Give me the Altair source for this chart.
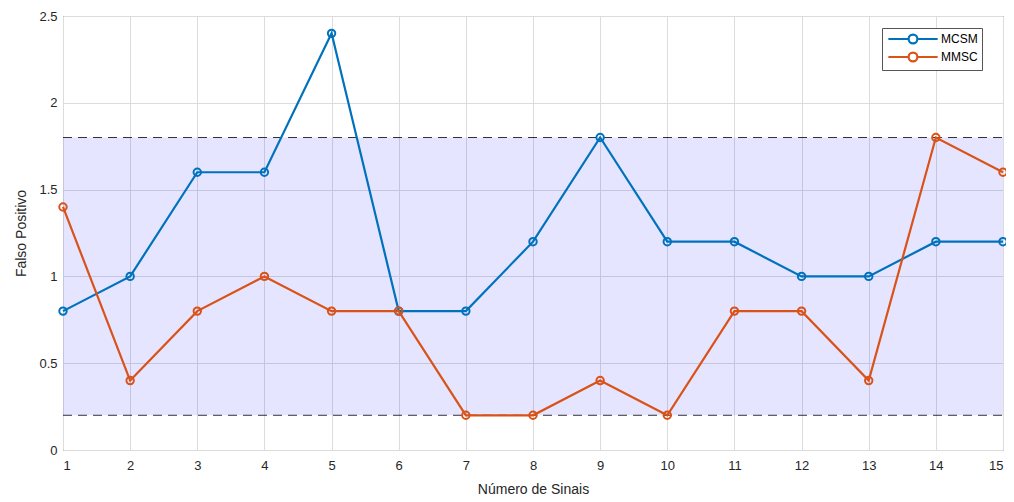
import altair as alt
import pandas as pd

sinais = list(range(1, 16))
mcsm = [0.8, 1.0, 1.6, 1.6, 2.4, 0.8, 0.8, 1.2, 1.8, 1.2, 1.2, 1.0, 1.0, 1.2, 1.2]
mmsc = [1.4, 0.4, 0.8, 1.0, 0.8, 0.8, 0.2, 0.2, 0.4, 0.2, 0.8, 0.8, 0.4, 1.8, 1.6]
series_names = ["MCSM", "MMSC"]
series_colors = ["#0072BD", "#D95319"]
band_low, band_high = 0.2, 1.8
x_ticks = list(range(1, 16))
y_ticks = [0, 0.5, 1, 1.5, 2, 2.5]

df = pd.DataFrame({
    "x": sinais * 2,
    "y": mcsm + mmsc,
    "serie": ["MCSM"] * len(sinais) + ["MMSC"] * len(sinais),
})
band_df = pd.DataFrame({"x": [sinais[0]], "x2": [sinais[-1]], "y": [band_low], "y2": [band_high]})
rule_df = pd.DataFrame({"y": [band_low, band_high], "x": [sinais[0]] * 2, "x2": [sinais[-1]] * 2})

xscale = alt.Scale(domain=[1, 15], nice=False, zero=False)
yscale = alt.Scale(domain=[0, 2.5], nice=False)

xaxis = alt.Axis(values=x_ticks, title="Número de Sinais", labelExpr="datum.value",
                 grid=True, ticks=False, domain=False, labelPadding=9, titlePadding=10)
yaxis = alt.Axis(values=y_ticks, title="Falso Positivo", labelExpr="datum.value",
                 grid=True, ticks=False, domain=False, labelPadding=6, titlePadding=10)

band = alt.Chart(band_df).mark_rect(color="#0000FF", opacity=0.1).encode(
    x=alt.X("x:Q", scale=xscale, axis=xaxis),
    x2="x2:Q",
    y=alt.Y("y:Q", scale=yscale, axis=yaxis),
    y2="y2:Q",
)

rules = alt.Chart(rule_df).mark_rule(color="#000000", strokeDash=[9, 6], strokeWidth=1, opacity=0.8).encode(
    x=alt.X("x:Q", scale=xscale),
    x2="x2:Q",
    y=alt.Y("y:Q", scale=yscale),
)

legend_path = "M-4.5,0H-0.8M0.8,0H4.5M-0.8,0A0.8,0.8,0,1,0,0.8,0A0.8,0.8,0,1,0,-0.8,0"

lines = alt.Chart(df).mark_line(
    strokeWidth=2.2,
    point=alt.OverlayMarkDef(filled=False, fill="white", fillOpacity=0, size=55, strokeWidth=2),
).encode(
    x=alt.X("x:Q", scale=xscale),
    y=alt.Y("y:Q", scale=yscale),
    color=alt.Color("serie:N", scale=alt.Scale(domain=series_names, range=series_colors),
                    legend=alt.Legend(title=None, orient="none", legendX=819, legendY=12,
                                      symbolType=legend_path, symbolSize=120,
                                      symbolStrokeWidth=2.2, symbolFillColor="transparent",
                                      symbolOffset=20,
                                      labelFontSize=12, labelFont="Liberation Sans",
                                      labelColor="#000000",
                                      strokeColor="#555555", fillColor="white",
                                      padding=4, cornerRadius=0, rowPadding=0,
                                      labelOffset=21)),
)

chart = alt.layer(band, rules, lines).properties(
    width=940, height=434,
    autosize=alt.AutoSizeParams(type="none"),
    padding={"left": 55, "top": 8, "right": 3, "bottom": 54},
).configure_view(
    stroke="#555555", strokeWidth=1
).configure_axis(
    gridColor="#DCDCDC", gridWidth=1,
    labelFont="Liberation Sans", labelFontSize=13, labelColor="#262626",
    titleFont="Liberation Sans", titleFontSize=14, titleFontWeight="normal", titleColor="#262626",
)

chart.save("out.html", embed_options={"renderer": "svg", "actions": False})
